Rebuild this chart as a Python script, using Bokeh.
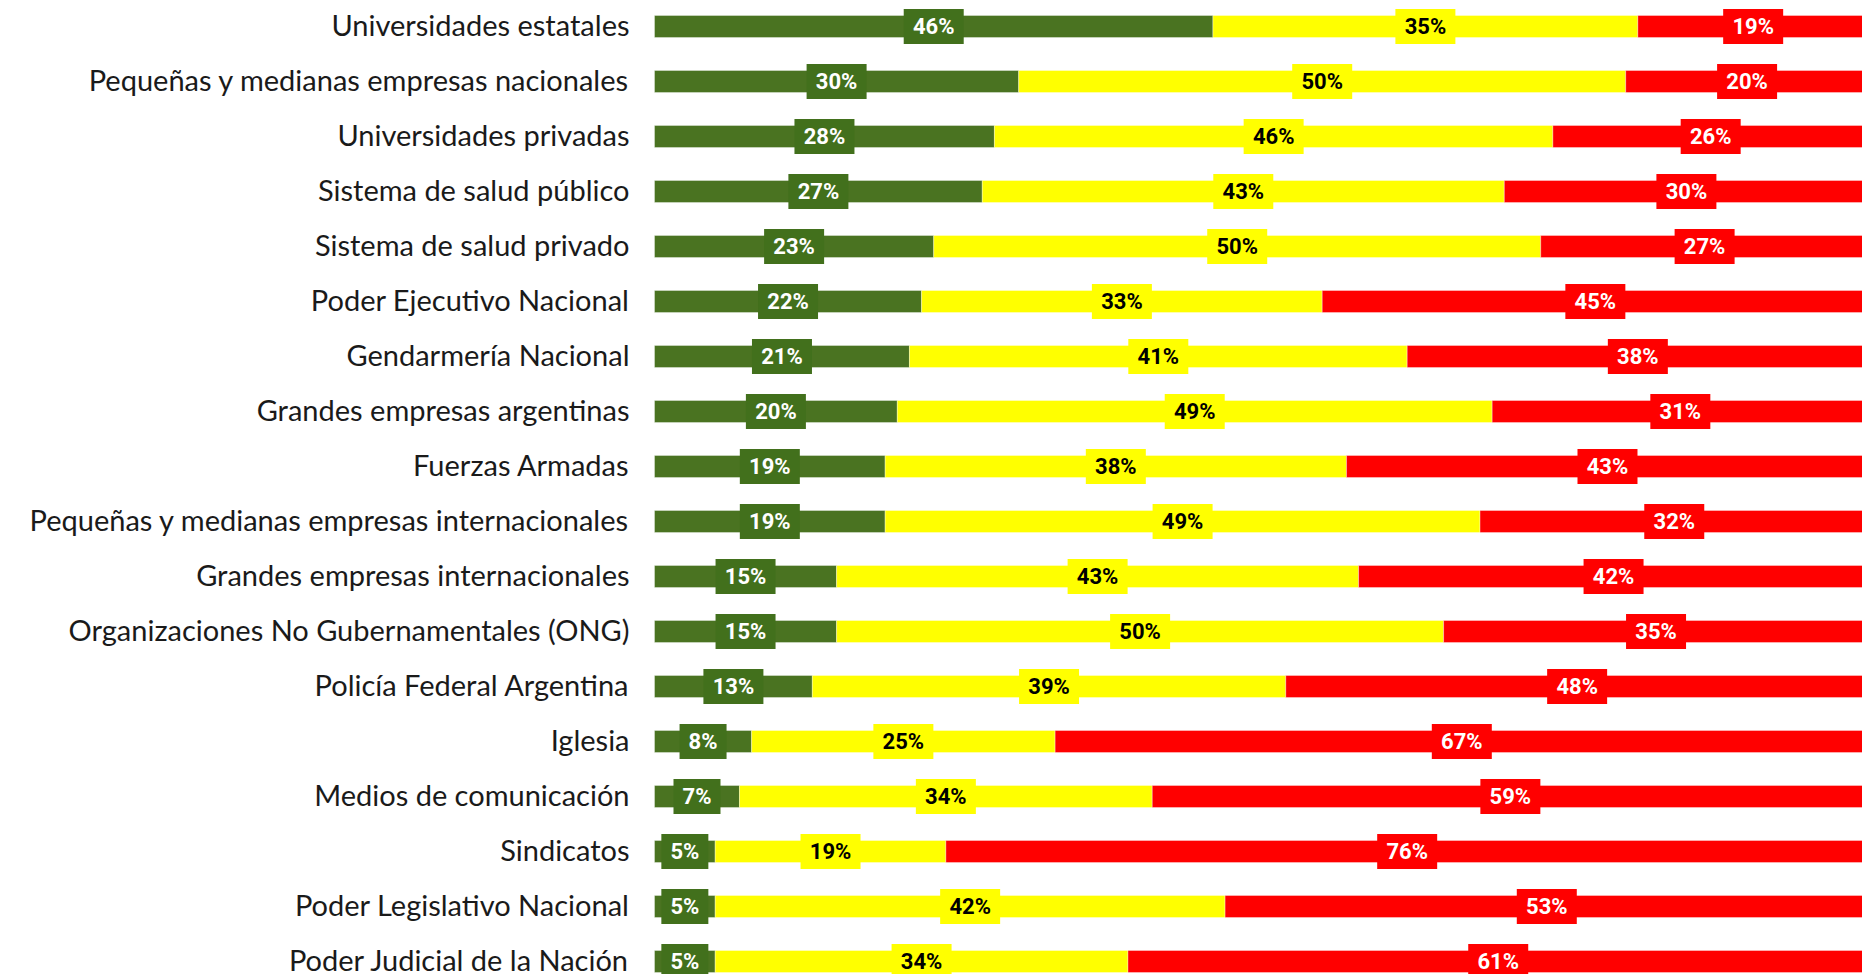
from bokeh.plotting import figure
from bokeh.models import Range1d, ColumnDataSource
from bokeh.core.properties import value
from bokeh.embed import file_html
from bokeh.resources import INLINE

categories = [
    "Universidades estatales",
    "Pequeñas y medianas empresas nacionales",
    "Universidades privadas",
    "Sistema de salud público",
    "Sistema de salud privado",
    "Poder Ejecutivo Nacional",
    "Gendarmería Nacional",
    "Grandes empresas argentinas",
    "Fuerzas Armadas",
    "Pequeñas y medianas empresas internacionales",
    "Grandes empresas internacionales",
    "Organizaciones No Gubernamentales (ONG)",
    "Policía Federal Argentina",
    "Iglesia",
    "Medios de comunicación",
    "Sindicatos",
    "Poder Legislativo Nacional",
    "Poder Judicial de la Nación",
]
green = [46, 30, 28, 27, 23, 22, 21, 20, 19, 19, 15, 15, 13, 8, 7, 5, 5, 5]
yellow = [35, 50, 46, 43, 50, 33, 41, 49, 38, 49, 43, 50, 39, 25, 34, 19, 42, 34]
red = [19, 20, 26, 30, 27, 45, 38, 31, 43, 32, 42, 35, 48, 67, 59, 76, 53, 61]

W, H = 1862, 974
LEFT = 654          # pixel where 0% sits
PX_PER = 12.14      # pixels per percent
TOP = 26            # first row center
STEP = 55           # row spacing

p = figure(width=W, height=H, output_backend="svg", toolbar_location=None,
           x_range=Range1d(-LEFT / PX_PER, (W - LEFT) / PX_PER),
           y_range=Range1d((H - TOP) / STEP, -TOP / STEP),
           min_border=0, outline_line_color=None, background_fill_color="white",
           border_fill_color="white")
p.axis.visible = False
p.grid.visible = False

ys = list(range(len(categories)))

series = [
    (green, "#4a7321", "#42701c", "white"),
    (yellow, "#ffff00", "#ffff00", "black"),
    (red, "#ff0000", "#ff0000", "white"),
]

lefts = [0] * len(categories)
for vals, bar_col, box_col, txt_col in series:
    rights = [l + v for l, v in zip(lefts, vals)]
    centers = [(l + r) / 2 for l, r in zip(lefts, rights)]
    labels = [f"{v}%" for v in vals]
    widths = [13 * len(s) + 21 for s in labels]
    src = ColumnDataSource(dict(y=ys, left=lefts, right=rights, cx=centers,
                                lab=labels, w=widths))
    p.hbar(y="y", left="left", right="right", height=0.4, source=src,
           fill_color=bar_col, line_color="white", line_alpha=0.35, line_width=1)
    p.rect(x="cx", y="y", width="w", height=35, width_units="screen",
           height_units="screen", source=src, fill_color=box_col, line_color=None)
    p.text(x="cx", y="y", text="lab", source=src, text_align="center",
           text_baseline="middle", text_color=txt_col,
           text_font=value("Roboto"), text_font_style="bold",
           text_font_size="22px")
    lefts = rights

lab_src = ColumnDataSource(dict(x=[0] * len(categories), y=ys, t=categories))
p.text(x="x", y="y", text="t", source=lab_src, x_offset=-25, y_offset=-2,
       text_align="right", text_baseline="middle", text_color="#1a1a1a",
       text_font=value("Lato"), text_font_size="29px")

open("out.html", "w").write(file_html(p, INLINE))
